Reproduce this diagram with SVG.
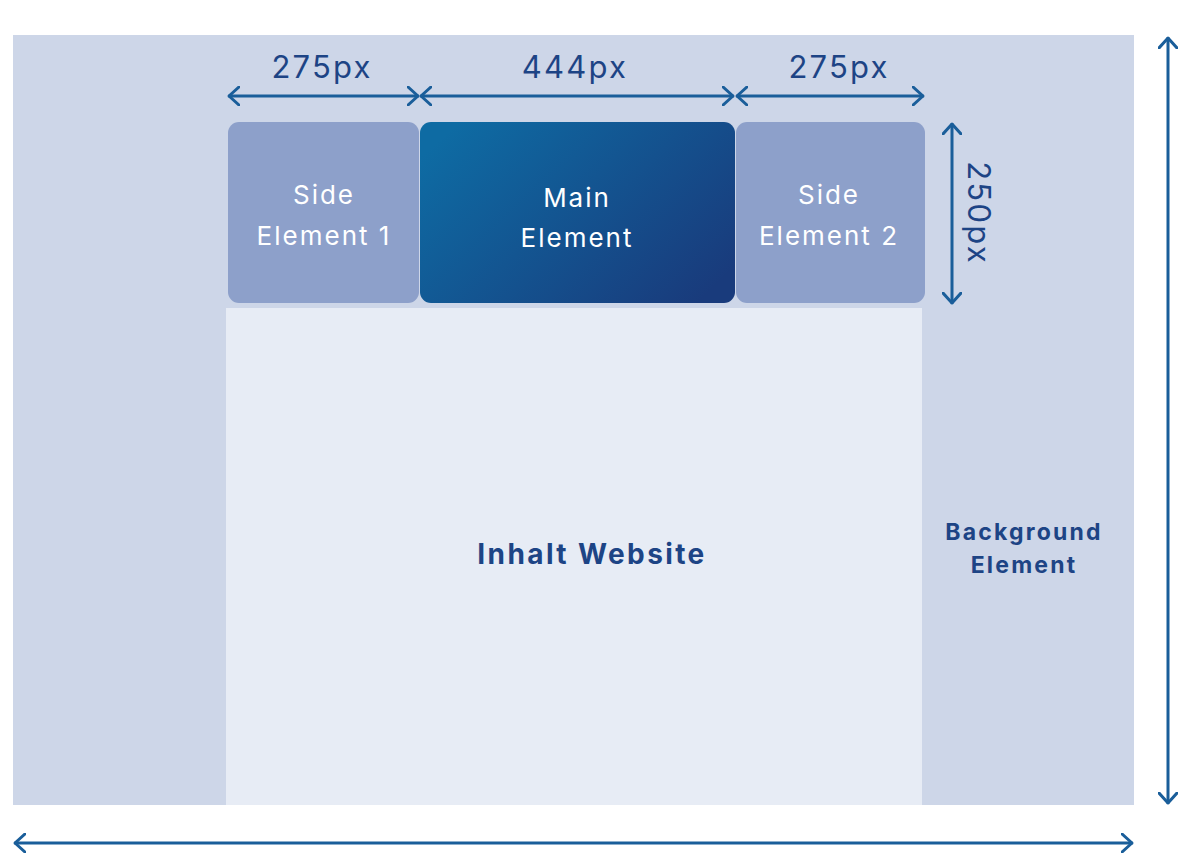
<svg xmlns="http://www.w3.org/2000/svg" width="1179" height="854" viewBox="0 0 1179 854">
<style>
.lbl{font-family:Inter,"Open Sans",sans-serif;font-size:31px;fill:#1D4485;text-anchor:middle;letter-spacing:2.2px}
.w{font-family:Inter,"Open Sans",sans-serif;font-size:26px;fill:#FFFFFF;text-anchor:middle;letter-spacing:2px}
.b{font-family:Inter,"Open Sans",sans-serif;font-weight:700;fill:#1D4485;text-anchor:middle}
.ln{stroke:#1A5E9A;stroke-width:3;fill:none;stroke-linecap:round;stroke-linejoin:round}
</style>
<defs>
<linearGradient id="g" x1="0" y1="0.2" x2="1" y2="0.8">
<stop offset="0" stop-color="#0E6BA3"/>
<stop offset="1" stop-color="#193B7C"/>
</linearGradient>
<marker id="ah" viewBox="0 0 12 20" refX="11" refY="10" markerWidth="12" markerHeight="20" markerUnits="userSpaceOnUse" orient="auto-start-reverse">
<path d="M1,1 L11,10 L1,19" fill="none" stroke="#1A5E9A" stroke-width="3" stroke-linecap="round" stroke-linejoin="round"/>
</marker>
</defs>
<rect width="1179" height="854" fill="#FFFFFF"/>
<g id="background"><rect x="13" y="35" width="1121" height="770" fill="#CDD6E8"/>
<text class="b" font-size="23" letter-spacing="2.2" x="1024" y="540">Background</text>
<text class="b" font-size="23" letter-spacing="2.2" x="1024" y="573">Element</text></g>
<g id="content"><rect x="226" y="308" width="696" height="497" fill="#E7ECF5"/>
<text class="b" font-size="28" letter-spacing="2.4" x="592" y="564">Inhalt Website</text></g>
<g id="side1"><rect x="228" y="122" width="191" height="181" rx="11" fill="#8DA0CA"/>
<text class="w" x="324" y="204">Side</text><text class="w" x="324" y="245">Element 1</text></g>
<g id="main"><rect x="420" y="122" width="315" height="181" rx="11" fill="url(#g)"/>
<text class="w" x="577" y="207">Main</text><text class="w" x="577" y="247">Element</text></g>
<g id="side2"><rect x="736" y="122" width="189" height="181" rx="11" fill="#8DA0CA"/>
<text class="w" x="829" y="204">Side</text><text class="w" x="829" y="245">Element 2</text></g>
<g id="connectors">
<line class="ln" x1="229" y1="96" x2="418" y2="96" marker-start="url(#ah)" marker-end="url(#ah)"/>
<line class="ln" x1="421" y1="96" x2="733" y2="96" marker-start="url(#ah)" marker-end="url(#ah)"/>
<line class="ln" x1="737" y1="96" x2="923" y2="96" marker-start="url(#ah)" marker-end="url(#ah)"/>
<line class="ln" x1="952" y1="124" x2="952" y2="303" marker-start="url(#ah)" marker-end="url(#ah)"/>
<line class="ln" x1="1168" y1="38" x2="1168" y2="803" marker-start="url(#ah)" marker-end="url(#ah)"/>
<line class="ln" x1="15" y1="843" x2="1132" y2="843" marker-start="url(#ah)" marker-end="url(#ah)"/>
</g>
<g id="labels">
<text class="lbl" x="322" y="78">275px</text>
<text class="lbl" x="575" y="78">444px</text>
<text class="lbl" x="839" y="78">275px</text>
<text class="lbl" transform="translate(968,213) rotate(90)" x="0" y="0">250px</text>
</g>
</svg>
